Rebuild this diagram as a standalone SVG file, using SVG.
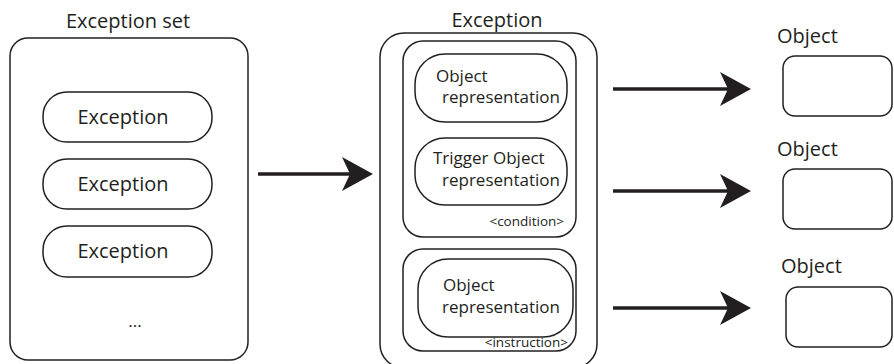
<svg xmlns="http://www.w3.org/2000/svg" width="894" height="364" viewBox="0 0 894 364">
<defs>
<style>
.box{fill:#fff;stroke:#231f20;stroke-width:1.5}
.t{font-family:"Open Sans","Noto Sans",sans-serif;fill:#231f20}
.l{font-size:20px}
.m{font-size:17px}
.s{font-size:13.5px}
.c{text-anchor:middle}
.e{text-anchor:end}
.ar{stroke:#231f20;stroke-width:3.5;fill:none}
</style>
<marker id="ah" markerUnits="userSpaceOnUse" viewBox="-32 -18 34 36" refX="-20" refY="0" markerWidth="34" markerHeight="36" orient="auto">
<path d="M0,0 L-31,-17 L-23,0 L-31,17 Z" fill="#231f20"/>
</marker>
</defs>
<rect width="894" height="364" fill="#fff"/>

<g id="exception-set">
<text class="t l c" x="128" y="28">Exception set</text>
<rect class="box" x="10" y="38" width="238" height="322" rx="18"/>
<g id="exc1"><rect class="box" x="43" y="92" width="169" height="50" rx="24"/><text class="t l c" x="123" y="124">Exception</text></g>
<g id="exc2"><rect class="box" x="43" y="159" width="169" height="50" rx="24"/><text class="t l c" x="123" y="191">Exception</text></g>
<g id="exc3"><rect class="box" x="43" y="226" width="169" height="51" rx="24"/><text class="t l c" x="123" y="258">Exception</text></g>
<text class="t m c" x="135" y="327">...</text>
</g>

<g id="exception">
<text class="t l c" x="497" y="27">Exception</text>
<rect class="box" x="380" y="33" width="217" height="335" rx="24"/>
<g id="condition">
<rect class="box" x="403" y="41" width="173" height="196" rx="20"/>
<g id="objrep1"><rect class="box" x="415" y="54" width="152" height="68" rx="30"/>
<text class="t m" x="436" y="82">Object</text><text class="t m" x="442" y="103">representation</text></g>
<g id="trigger"><rect class="box" x="415" y="138" width="152" height="67" rx="30"/>
<text class="t m" x="433" y="164">Trigger Object</text><text class="t m" x="442" y="186">representation</text></g>
<text class="t s e" x="564" y="226">&lt;condition&gt;</text>
</g>
<g id="instruction">
<rect class="box" x="403" y="249" width="173" height="102" rx="20"/>
<g id="objrep2"><rect class="box" x="418" y="259" width="155" height="78" rx="30"/>
<text class="t m" x="443" y="291">Object</text><text class="t m" x="442" y="313">representation</text></g>
<text class="t s e" x="568" y="347">&lt;instruction&gt;</text>
</g>
</g>

<g id="obj1"><text class="t l" x="777" y="43">Object</text><rect class="box" x="783" y="56" width="109" height="60" rx="12"/></g>
<g id="obj2"><text class="t l" x="777" y="156">Object</text><rect class="box" x="783" y="169" width="109" height="60" rx="12"/></g>
<g id="obj3"><text class="t l" x="781" y="273">Object</text><rect class="box" x="786" y="287" width="106" height="60" rx="12"/></g>

<g id="connectors">
<line class="ar" x1="258" y1="174" x2="353" y2="174" marker-end="url(#ah)"/>
<line class="ar" x1="613" y1="89" x2="731" y2="89" marker-end="url(#ah)"/>
<line class="ar" x1="613" y1="191" x2="731" y2="191" marker-end="url(#ah)"/>
<line class="ar" x1="613" y1="308" x2="731" y2="308" marker-end="url(#ah)"/>
</g>
</svg>
